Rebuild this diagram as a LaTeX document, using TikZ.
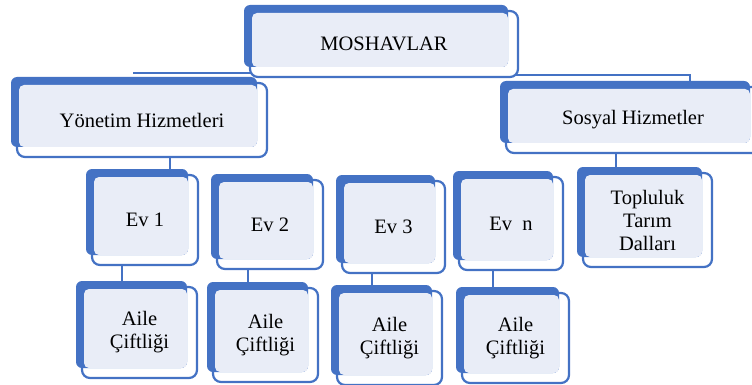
\documentclass[tikz,border=0pt]{standalone}
\usepackage{fontspec}
\setmainfont{Liberation Serif}
\usetikzlibrary{backgrounds}
\definecolor{sablue}{HTML}{4472C4}
\definecolor{salight}{HTML}{E9EDF7}
\tikzset{
  outl/.style={draw=sablue, line width=2.2pt, fill=white, rounded corners=8pt, outer sep=0pt, inner sep=0pt},
  backc/.style={fill=sablue, rounded corners=6pt},
  lightc/.style={fill=salight, rounded corners=5pt},
  txt/.style={align=center, inner sep=0pt, font=\fontsize{20.5}{23}\selectfont},
  conn/.style={draw=sablue, line width=2pt},
  connthin/.style={draw=sablue, line width=1.5pt},
}
\newcommand\kutu[6]{%
  \node[outl, minimum width=#4, minimum height=#5] (#1) at (#2,#3) {};
  \fill[backc] ([shift={(-6pt,6pt)}]#1.north west) rectangle ([shift={(-10pt,10pt)}]#1.south east);
  \fill[lightc] ([shift={(2pt,-2pt)}]#1.north west) rectangle ([shift={(-10pt,10pt)}]#1.south east);
  \node[txt] (#1-t) at (#1.center) {#6};
}
\begin{document}
\begin{tikzpicture}[x=1pt,y=-1pt]
\useasboundingbox (0,0) rectangle (752,385);
\kutu{mosh}{384}{44}{268pt}{66pt}{MOSHAVLAR}
\kutu{yon}{142}{120}{250pt}{74pt}{Yönetim Hizmetleri}
\kutu{sos}{633}{120}{254pt}{66pt}{Sosyal Hizmetler}
\kutu{ev1}{145}{220}{106pt}{90pt}{Ev 1}
\kutu{ev2}{270}{224.5}{106pt}{89pt}{Ev 2}
\kutu{ev3}{393.5}{227}{103pt}{92pt}{Ev 3}
\kutu{evn}{511}{223.5}{104pt}{93pt}{Ev\ \ n}
\kutu{top}{647.5}{220}{129pt}{94pt}{Topluluk\\Tarım\\Dalları}
\kutu{a1}{139.5}{332.5}{115pt}{91pt}{Aile\\Çiftliği}
\kutu{a2}{265.5}{335}{105pt}{94pt}{Aile\\Çiftliği}
\kutu{a3}{389.5}{338}{105pt}{94pt}{Aile\\Çiftliği}
\kutu{a4}{515.5}{338}{107pt}{90pt}{Aile\\Çiftliği}
\coordinate (mL) at (133,73);
\coordinate (mR) at (690,75);
\begin{scope}[on background layer]
\draw[connthin] ([yshift=4pt]mosh.south) -- (mL);
\draw[connthin] ([yshift=2pt]mosh.south) -- (mR) -- (mR |- sos.north);
\draw[conn] ([xshift=28pt]yon.south) -- ([xshift=28pt]yon.south |- ev1.north);
\draw[conn] ([xshift=-17pt]sos.south) -- ([xshift=-17pt]sos.south |- top.north);
\draw[conn] ([xshift=-23pt]ev1.south) -- ([xshift=-23pt]ev1.south |- a1.north);
\draw[conn] ([xshift=-22pt]ev2.south) -- ([xshift=-22pt]ev2.south |- a2.north);
\draw[conn] ([xshift=-21.5pt]ev3.south) -- ([xshift=-21.5pt]ev3.south |- a3.north);
\draw[conn] ([xshift=-18pt]evn.south) -- ([xshift=-18pt]evn.south |- a4.north);
\end{scope}
\end{tikzpicture}
\end{document}
